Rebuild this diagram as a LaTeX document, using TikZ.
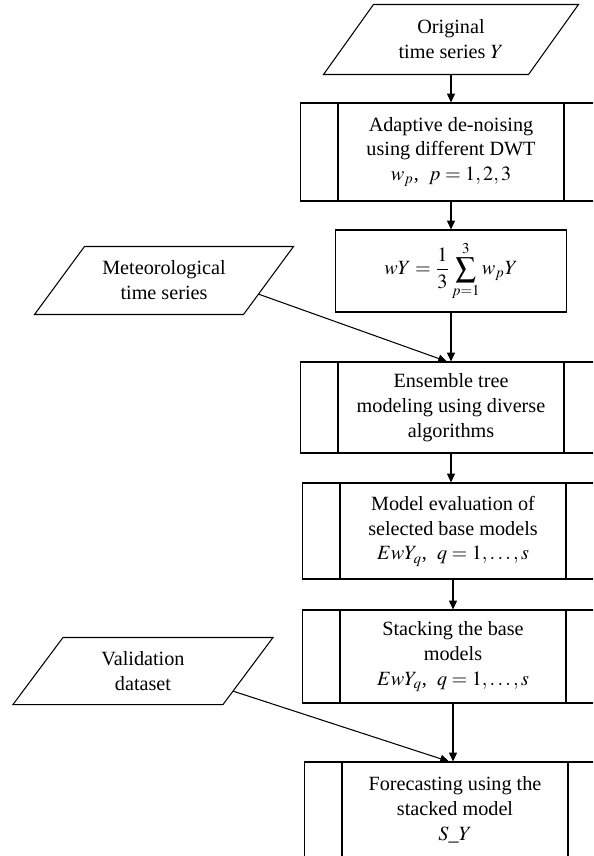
\documentclass[tikz,border=0pt]{standalone}
\usepackage{amsmath}
\usepackage{mathptmx}
\usepackage{fontspec}
\setmainfont{Liberation Serif}
\usepackage{tikz}
\usetikzlibrary{arrows.meta,calc}

\begin{document}
\begin{tikzpicture}[x=0.02cm,y=-0.02cm,line width=0.6pt,
  every node/.style={font=\fontsize{11.5}{14.2}\selectfont, align=center, inner sep=0pt},
  procbox/.style={draw, minimum width=6.02cm},
  flow/.style={-{Triangle[length=5pt,width=4.5pt]}}]
  \useasboundingbox (0,0) rectangle (593,856);
  \clip (0,0) rectangle (593,856);
  % Input data
  \node[minimum width=4.08cm, minimum height=1.38cm] (orig) at (451,39.5) {Original\\time series $Y$};
  \node[minimum width=4.16cm, minimum height=1.34cm] (meteo) at (164,280.5) {Meteorological\\time series};
  \node[minimum width=4.18cm, minimum height=1.32cm] (valid) at (143,671) {Validation\\dataset};
  \foreach \n in {orig,meteo,valid}
    \draw ($(\n.south west)+(-25,0)$) -- ($(\n.south east)+(-25,0)$) coordinate (\n-br)
      -- ($(\n.north east)+(25,0)$) coordinate (\n-tr) -- ($(\n.north west)+(25,0)$) -- cycle;
  % Processing steps
  \node[procbox, minimum height=1.96cm] (adapt) at (451,152) {Adaptive de-noising\\using different DWT\\$w_p$,\enspace$p=1,2,3$};
  \node[draw, minimum width=4.62cm, minimum height=1.64cm] (avg) at (451,271) {$\displaystyle wY=\frac{1}{3}\sum_{p=1}^{3}w_pY$};
  \node[procbox, minimum height=1.82cm] (ens) at (451,407.5) {Ensemble tree\\modeling using diverse\\algorithms};
  \node[procbox, minimum height=1.92cm] (eval) at (453,531) {Model evaluation of\\selected base models\\$EwY_q$,\enspace$q=1,\ldots,s$};
  \node[procbox, minimum height=1.86cm] (stack) at (453,656.5) {Stacking the base\\models\\$EwY_q$,\enspace$q=1,\ldots,s$};
  \node[procbox, minimum height=1.92cm] (fore) at (455,810) {Forecasting using the\\stacked model\\$S\_Y$};
  \foreach \n in {adapt,ens,eval,stack,fore} {
    \draw ($(\n.north west)+(38,0)$) -- ($(\n.south west)+(38,0)$);
    \draw ($(\n.north east)+(-38,0)$) -- ($(\n.south east)+(-38,0)$);
  }
  % Arrows
  \foreach \a/\b in {orig/adapt,adapt/avg,avg/ens,ens/eval,eval/stack,stack/fore}
    \draw[flow] (\a.south) -- (\a.south |- \b.north);
  \draw[flow] ($(meteo-br)!0.3!(meteo-tr)$) -- ($(ens.north)+(-4,0)$);
  \draw[flow] ($(valid-br)!0.2!(valid-tr)$) -- ($(fore.north)+(-6,0)$);
\end{tikzpicture}
\end{document}
